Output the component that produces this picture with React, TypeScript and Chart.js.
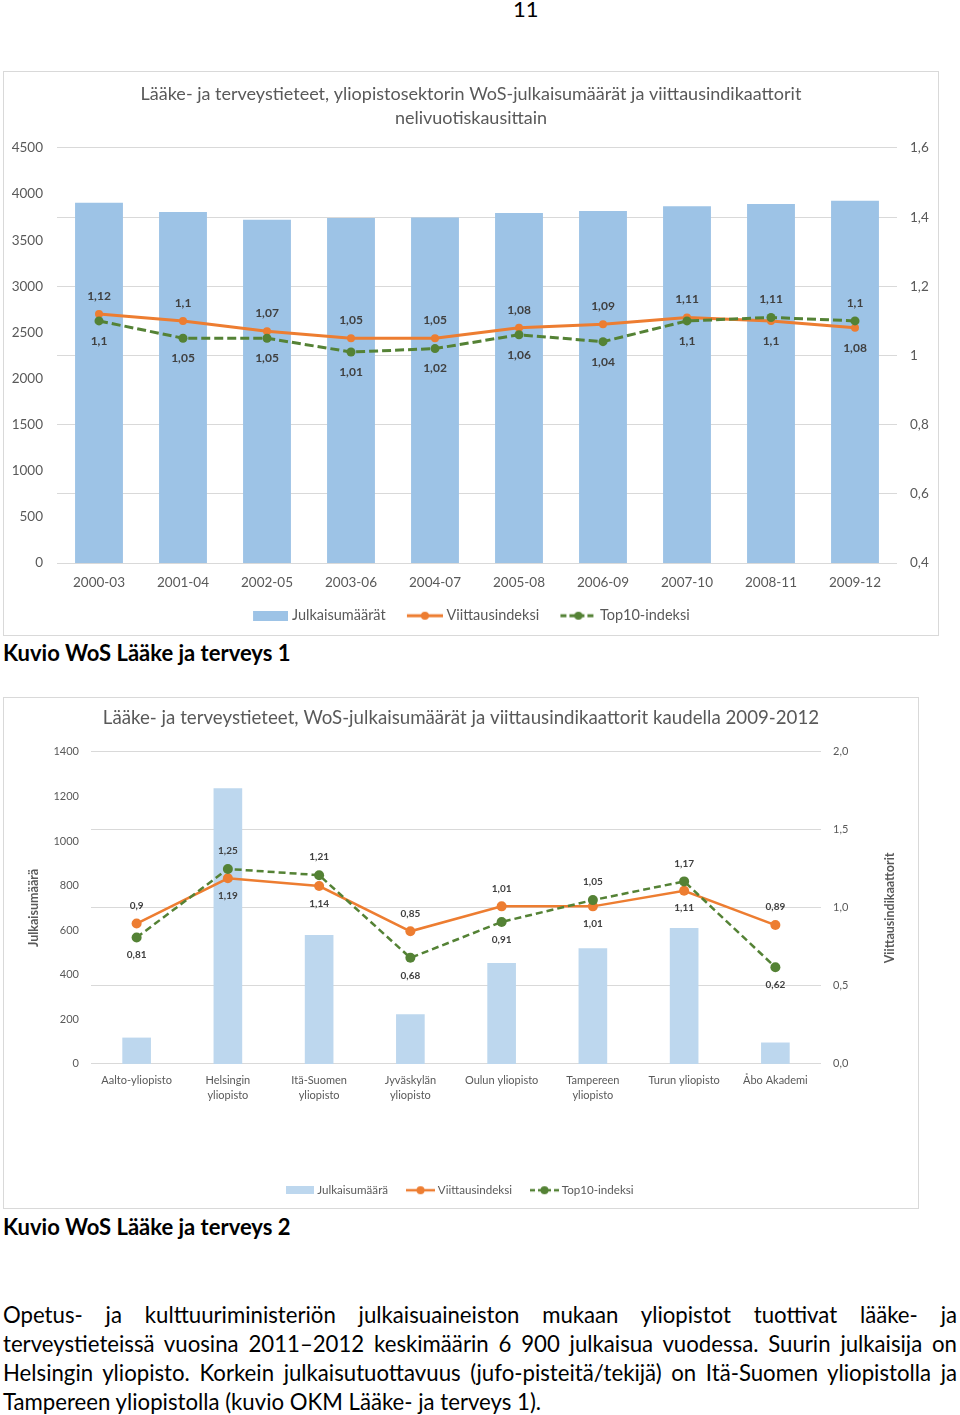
import React, { useEffect, useRef } from 'react';
import { Chart, registerables } from 'chart.js';

Chart.register(...registerables);

// ---------- Chart 1 data ----------
const periods = ['2000-03', '2001-04', '2002-05', '2003-06', '2004-07', '2005-08', '2006-09', '2007-10', '2008-11', '2009-12'];
const publications1 = [3907, 3806, 3723, 3741, 3745, 3795, 3817, 3867, 3893, 3929];
const citationIndex1 = [1.12, 1.1, 1.07, 1.05, 1.05, 1.08, 1.09, 1.11, 1.1, 1.08];
const top10Index1 = [1.1, 1.05, 1.05, 1.01, 1.02, 1.06, 1.04, 1.1, 1.11, 1.1];
const title1 = ['Lääke- ja terveystieteet, yliopistosektorin WoS-julkaisumäärät ja viittausindikaattorit', 'nelivuotiskausittain'];
const legend1 = ['Julkaisumäärät', 'Viittausindeksi', 'Top10-indeksi'];

// ---------- Chart 2 data ----------
const universities = [
  ['Aalto-yliopisto'],
  ['Helsingin', 'yliopisto'],
  ['Itä-Suomen', 'yliopisto'],
  ['Jyväskylän', 'yliopisto'],
  ['Oulun yliopisto'],
  ['Tampereen', 'yliopisto'],
  ['Turun yliopisto'],
  ['Åbo Akademi'],
];
const publications2 = [118, 1237, 579, 223, 453, 519, 610, 96];
const citationIndex2 = [0.9, 1.19, 1.14, 0.85, 1.01, 1.01, 1.11, 0.89];
const top10Index2 = [0.81, 1.25, 1.21, 0.68, 0.91, 1.05, 1.17, 0.62];
const title2 = 'Lääke- ja terveystieteet, WoS-julkaisumäärät ja viittausindikaattorit kaudella 2009-2012';
const legend2 = ['Julkaisumäärä', 'Viittausindeksi', 'Top10-indeksi'];
const leftAxisTitle2 = 'Julkaisumäärä';
const rightAxisTitle2 = 'Viittausindikaattorit';

const paragraphLines = [
  'Opetus- ja kulttuuriministeriön julkaisuaineiston mukaan yliopistot tuottivat lääke- ja',
  'terveystieteissä vuosina 2011–2012 keskimäärin 6\u00a0900 julkaisua vuodessa. Suurin julkaisija on',
  'Helsingin yliopisto. Korkein julkaisutuottavuus (jufo-pisteitä/tekijä) on Itä-Suomen yliopistolla ja',
  'Tampereen yliopistolla (kuvio OKM Lääke- ja terveys 1).',
];

const FONT = 'Lato';
const GREY = '#595959';
const ORANGE = '#ED7D31';
const GREEN = '#548235';
const BAR1 = '#9DC3E6';
const BAR2 = '#BDD7EE';

const fmtComma = (v: number) => String(Math.round(v * 100) / 100).replace('.', ',');
const plainInt = (v: any) => String(Math.round(Number(v)));

// icons get an optional transparent left margin (m) to widen legend item spacing
function barIcon(w: number, h: number, color: string, m = 0) {
  const c = document.createElement('canvas');
  c.width = w + m;
  c.height = h;
  const g = c.getContext('2d')!;
  g.fillStyle = color;
  g.fillRect(m, 0, w, h);
  return c;
}

function lineIcon(w: number, h: number, color: string, lw: number, r: number, dash: number[], m = 0) {
  const c = document.createElement('canvas');
  c.width = w + m;
  c.height = h;
  const g = c.getContext('2d')!;
  g.strokeStyle = color;
  g.lineWidth = lw;
  g.setLineDash(dash);
  g.beginPath();
  g.moveTo(m, h / 2);
  g.lineTo(m + w, h / 2);
  g.stroke();
  g.setLineDash([]);
  g.fillStyle = color;
  g.beginPath();
  g.arc(m + w / 2, h / 2, r, 0, Math.PI * 2);
  g.fill();
  return c;
}

function pointLabelsPlugin(font: string, above: number, below: number) {
  return {
    id: 'pointLabels',
    afterDatasetsDraw(chart: any) {
      const ctx = chart.ctx;
      const ma = chart.getDatasetMeta(1);
      const mb = chart.getDatasetMeta(2);
      const da = chart.data.datasets[1].data;
      const db = chart.data.datasets[2].data;
      ctx.save();
      ctx.font = font;
      ctx.fillStyle = '#404040';
      ctx.textAlign = 'center';
      ctx.textBaseline = 'middle';
      ma.data.forEach((pa: any, i: number) => {
        const pb = mb.data[i];
        const aHigher = pa.y <= pb.y;
        ctx.fillText(fmtComma(da[i]), pa.x, aHigher ? pa.y - above : pa.y + below);
        ctx.fillText(fmtComma(db[i]), pb.x, aHigher ? pb.y + below : pb.y - above);
      });
      ctx.restore();
    },
  };
}

function axisTitlesPlugin(left: string, right: string, leftX: number, rightX: number) {
  return {
    id: 'axisTitles',
    afterDraw(chart: any) {
      const ctx = chart.ctx;
      const a = chart.chartArea;
      const cy = (a.top + a.bottom) / 2;
      ctx.save();
      ctx.font = `bold 12.5px ${FONT}`;
      ctx.fillStyle = GREY;
      ctx.textAlign = 'center';
      ctx.textBaseline = 'middle';
      [[left, leftX], [right, rightX]].forEach(([t, x]) => {
        ctx.save();
        ctx.translate(x as number, cy);
        ctx.rotate(-Math.PI / 2);
        ctx.fillText(t as string, 0, 0);
        ctx.restore();
      });
      ctx.restore();
    },
  };
}

function legendItems(names: string[], icons: HTMLCanvasElement[]) {
  return names.map((text, i) => ({
    text,
    pointStyle: icons[i],
    fillStyle: 'rgba(0,0,0,0)',
    strokeStyle: 'rgba(0,0,0,0)',
    lineWidth: 0,
    hidden: false,
    datasetIndex: i,
    fontColor: GREY,
  }));
}

function ChartOne() {
  const ref = useRef<HTMLCanvasElement>(null);
  useEffect(() => {
    const icons = [
      barIcon(35, 10, BAR1, 4),
      lineIcon(36, 10, ORANGE, 3, 4, [], 4),
      lineIcon(36, 10, GREEN, 3, 4, [6, 3], 4),
    ];
    const chart = new Chart(ref.current!, {
      type: 'bar',
      data: {
        labels: periods,
        datasets: [
          {
            type: 'bar',
            label: legend1[0],
            data: publications1,
            backgroundColor: BAR1,
            yAxisID: 'y',
            barPercentage: 0.57,
            categoryPercentage: 1,
            order: 3,
          } as any,
          {
            type: 'line',
            label: legend1[1],
            data: citationIndex1,
            borderColor: ORANGE,
            backgroundColor: ORANGE,
            borderWidth: 3,
            pointRadius: 4,
            pointBackgroundColor: ORANGE,
            pointBorderWidth: 0,
            yAxisID: 'y1',
            order: 2,
          },
          {
            type: 'line',
            label: legend1[2],
            data: top10Index1,
            borderColor: GREEN,
            backgroundColor: GREEN,
            borderWidth: 3,
            borderDash: [9, 4],
            pointRadius: 4.5,
            pointBackgroundColor: GREEN,
            pointBorderWidth: 0,
            yAxisID: 'y1',
            order: 1,
          },
        ],
      },
      options: {
        responsive: false,
        animation: false,
        layout: { padding: { left: 0, right: 0, top: 0, bottom: 2 } },
        plugins: {
          title: {
            display: true,
            text: title1,
            color: GREY,
            font: { family: FONT, size: 18, weight: 'normal', lineHeight: 1.333 },
            padding: { top: 10, bottom: 18 },
          },
          legend: {
            position: 'bottom',
            labels: {
              usePointStyle: true,
              pointStyleWidth: 32.5,
              padding: 21,
              color: GREY,
              font: { family: FONT, size: 14.5 },
              generateLabels: () => legendItems(legend1, icons) as any,
            },
          },
          tooltip: { enabled: false },
        },
        scales: {
          x: {
            grid: { display: false, drawTicks: false },
            border: { display: false },
            ticks: { color: GREY, font: { family: FONT, size: 13.5 }, padding: 12, maxRotation: 0, autoSkip: false },
            afterFit: (s: any) => { s.height = 24.5; },
          },
          y: {
            position: 'left',
            min: 0,
            max: 4500,
            grid: { display: false, drawTicks: false },
            border: { display: false },
            ticks: { stepSize: 500, color: GREY, font: { family: FONT, size: 13.5 }, padding: 14, autoSkip: false, callback: plainInt },
            afterFit: (s: any) => { s.width = 53; },
          },
          y1: {
            position: 'right',
            min: 0.4,
            max: 1.6,
            grid: { color: '#d9d9d9', drawTicks: false },
            border: { display: false },
            ticks: {
              stepSize: 0.2,
              color: GREY,
              font: { family: FONT, size: 13.5 },
              padding: 13,
              autoSkip: false,
              callback: (v: any) => String(Math.round(Number(v) * 10) / 10).replace('.', ','),
            },
            afterFit: (s: any) => { s.width = 41; },
          },
        },
      } as any,
      plugins: [pointLabelsPlugin(`bold 12px ${FONT}`, 18, 20)],
    });
    return () => chart.destroy();
  }, []);
  return <canvas ref={ref} width={934} height={563} style={{ display: 'block' }} />;
}

function ChartTwo() {
  const ref = useRef<HTMLCanvasElement>(null);
  useEffect(() => {
    const icons = [
      barIcon(28, 8, BAR2),
      lineIcon(29, 10, ORANGE, 2.5, 4, []),
      lineIcon(29, 10, GREEN, 2.5, 4, [5, 3]),
    ];
    const chart = new Chart(ref.current!, {
      type: 'bar',
      data: {
        labels: universities,
        datasets: [
          {
            type: 'bar',
            label: legend2[0],
            data: publications2,
            backgroundColor: BAR2,
            yAxisID: 'y',
            barPercentage: 0.314,
            categoryPercentage: 1,
            order: 3,
          } as any,
          {
            type: 'line',
            label: legend2[1],
            data: citationIndex2,
            borderColor: ORANGE,
            backgroundColor: ORANGE,
            borderWidth: 2.5,
            pointRadius: 5,
            pointBackgroundColor: ORANGE,
            pointBorderWidth: 0,
            yAxisID: 'y1',
            order: 2,
          },
          {
            type: 'line',
            label: legend2[2],
            data: top10Index2,
            borderColor: GREEN,
            backgroundColor: GREEN,
            borderWidth: 2.5,
            borderDash: [7, 4],
            pointRadius: 5,
            pointBackgroundColor: GREEN,
            pointBorderWidth: 0,
            yAxisID: 'y1',
            order: 1,
          },
        ],
      },
      options: {
        responsive: false,
        animation: false,
        layout: { padding: { left: 0, right: 0, top: 0, bottom: 2 } },
        plugins: {
          title: {
            display: true,
            text: title2,
            color: GREY,
            font: { family: FONT, size: 18.7, weight: 'normal', lineHeight: 1.2 },
            padding: { top: 9, bottom: 22.5 },
          },
          legend: {
            position: 'bottom',
            labels: {
              usePointStyle: true,
              pointStyleWidth: 23,
              padding: 21,
              color: GREY,
              font: { family: FONT, size: 11.6 },
              generateLabels: () => legendItems(legend2, icons) as any,
            },
          },
          tooltip: { enabled: false },
        },
        scales: {
          x: {
            grid: { display: false, drawTicks: false },
            border: { display: false },
            ticks: { color: GREY, font: { family: FONT, size: 11, lineHeight: 1.36 }, padding: 9, maxRotation: 0, autoSkip: false },
            afterFit: (s: any) => { s.height = 99.5; },
          },
          y: {
            position: 'left',
            min: 0,
            max: 1400,
            grid: { display: false, drawTicks: false },
            border: { display: false },
            ticks: { stepSize: 200, color: GREY, font: { family: FONT, size: 11 }, padding: 12, autoSkip: false, callback: plainInt },
            afterFit: (s: any) => { s.width = 87; },
          },
          y1: {
            position: 'right',
            min: 0,
            max: 2,
            grid: { color: '#d9d9d9', drawTicks: false },
            border: { display: false },
            ticks: {
              stepSize: 0.5,
              color: GREY,
              font: { family: FONT, size: 11 },
              padding: 12,
              autoSkip: false,
              callback: (v: any) => Number(v).toFixed(1).replace('.', ','),
            },
            afterFit: (s: any) => { s.width = 97; },
          },
        },
      } as any,
      plugins: [
        pointLabelsPlugin(`bold 10px ${FONT}`, 18, 17.5),
        axisTitlesPlugin(leftAxisTitle2, rightAxisTitle2, 30, 886),
      ],
    });
    return () => chart.destroy();
  }, []);
  return <canvas ref={ref} width={914} height={510} style={{ display: 'block' }} />;
}

export default function App() {
  return (
    <div style={{ position: 'absolute', left: 0, top: 0, width: 960, height: 1415, fontFamily: FONT, color: '#000', overflow: 'hidden', background: '#fff' }}>
      <div style={{ position: 'absolute', left: 513, top: -4, fontSize: 22, lineHeight: '26px' }}>11</div>

      <div style={{ position: 'absolute', left: 3, top: 71, width: 936, height: 565, border: '1px solid #d9d9d9', boxSizing: 'border-box' }}>
        <ChartOne />
      </div>
      <div style={{ position: 'absolute', left: 3, top: 640, fontSize: 22, fontWeight: 'bold', lineHeight: '26px' }}>Kuvio WoS Lääke ja terveys 1</div>

      <div style={{ position: 'absolute', left: 3, top: 697, width: 916, height: 512, border: '1px solid #d9d9d9', boxSizing: 'border-box' }}>
        <ChartTwo />
      </div>
      <div style={{ position: 'absolute', left: 3, top: 1214, fontSize: 22, fontWeight: 'bold', lineHeight: '26px' }}>Kuvio WoS Lääke ja terveys 2</div>

      <div style={{ position: 'absolute', left: 3, top: 1299.5, width: 954, fontSize: 22.2, lineHeight: '29px' }}>
        {paragraphLines.map((line, i) => (
          <div
            key={i}
            style={{
              textAlign: 'justify',
              textAlignLast: i < paragraphLines.length - 1 ? 'justify' : 'left',
            }}
          >
            {line}
          </div>
        ))}
      </div>
    </div>
  );
}
